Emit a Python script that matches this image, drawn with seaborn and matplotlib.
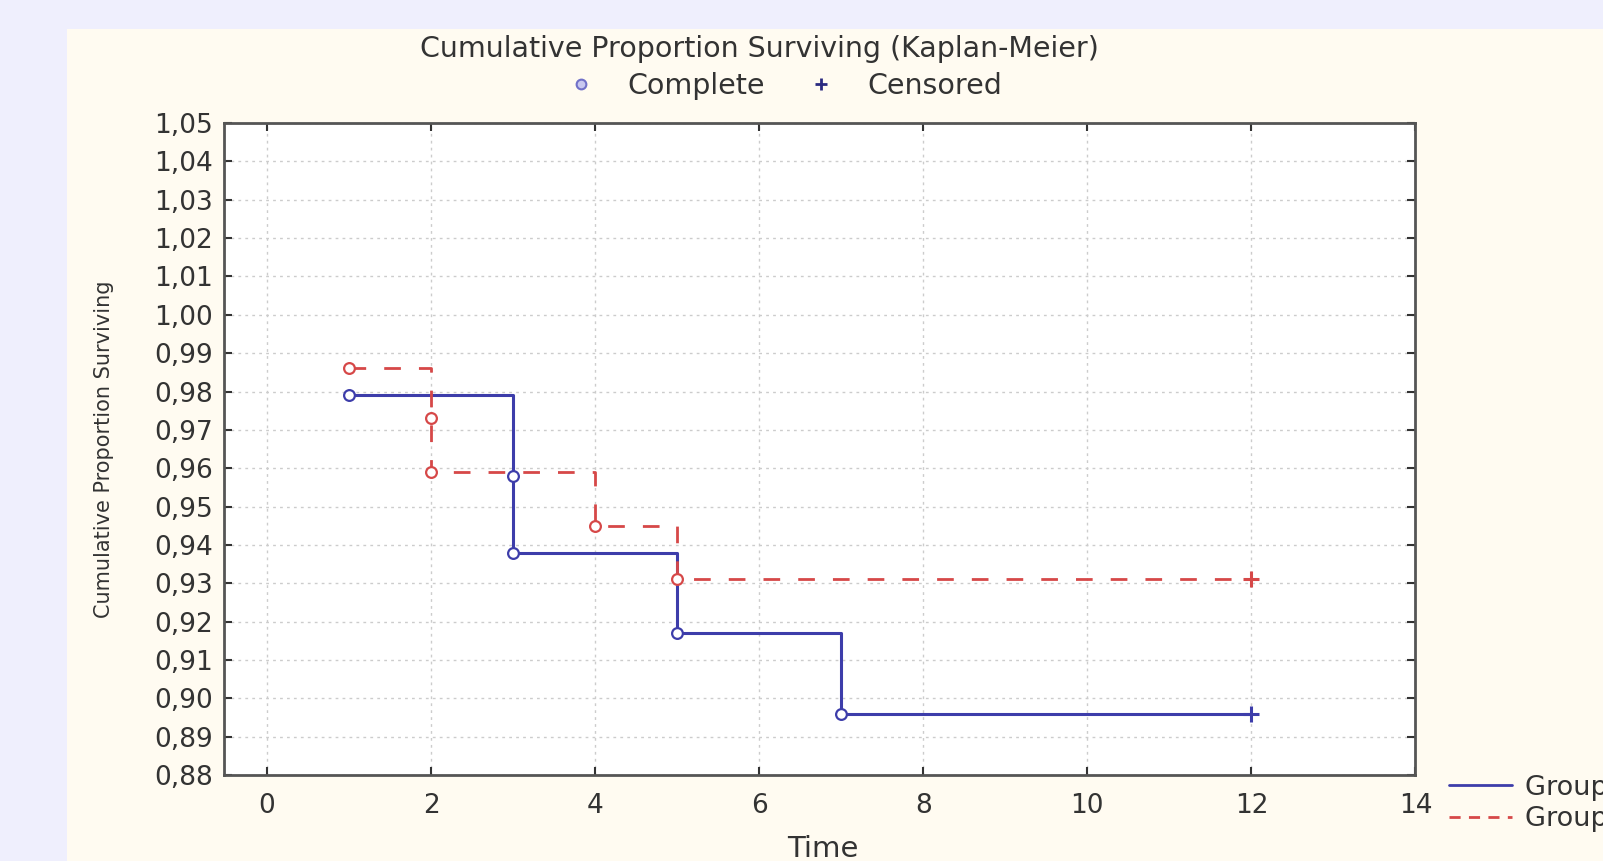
import numpy as np
import pandas as pd
import matplotlib
matplotlib.use('Agg')
import matplotlib.pyplot as plt
import seaborn as sns
from matplotlib.lines import Line2D
from matplotlib.ticker import FuncFormatter, MultipleLocator

# Kaplan-Meier estimates
g1_time = [1, 3, 3, 5, 7, 12]
g1_surv = [0.979, 0.958, 0.938, 0.917, 0.896, 0.896]
g1_cens = [False, False, False, False, False, True]

g2_time = [1, 2, 2, 4, 5, 12]
g2_surv = [0.986, 0.973, 0.959, 0.945, 0.931, 0.931]
g2_cens = [False, False, False, False, False, True]

x_ticks = [0, 2, 4, 6, 8, 10, 12, 14]

blue = '#3d3daa'
red = '#d64848'
txt = '#333333'

df1 = pd.DataFrame({'Time': g1_time, 'Surv': g1_surv, 'Censored': g1_cens})
df2 = pd.DataFrame({'Time': g2_time, 'Surv': g2_surv, 'Censored': g2_cens})

sns.set_style('ticks')
plt.rcParams['font.family'] = ['DejaVu Sans']

fig = plt.figure(figsize=(16.03, 8.61), dpi=100, facecolor='#efeffd')
fig.patches.append(plt.Rectangle((0.042, 0), 0.958, 0.966, transform=fig.transFigure,
                                 facecolor='#fffbf1', edgecolor='none', zorder=-5))
ax = fig.add_axes([0.140, 0.100, 0.743, 0.757])
ax.set_facecolor('white')

sns.lineplot(data=df1, x='Time', y='Surv', estimator=None, sort=False, ax=ax,
             drawstyle='steps-post', color=blue, linewidth=2.2, zorder=3)
sns.lineplot(data=df2, x='Time', y='Surv', estimator=None, sort=False, ax=ax,
             drawstyle='steps-post', color=red, linewidth=2.0, dashes=False,
             linestyle=(0, (6, 6.5)), zorder=3)

for d, c in [(df1, blue), (df2, red)]:
    comp = d[~d['Censored']]
    cens = d[d['Censored']]
    sns.scatterplot(data=comp, x='Time', y='Surv', ax=ax, marker='o', s=60,
                    facecolor='white', edgecolor=c, linewidth=1.6, zorder=4)
    sns.scatterplot(data=cens, x='Time', y='Surv', ax=ax, marker='+', s=140,
                    color=c, linewidth=2.2, zorder=4)

ax.set_xlim(-0.52, 14)
ax.set_ylim(0.88, 1.05)
ax.set_xticks(x_ticks)
ax.yaxis.set_major_locator(MultipleLocator(0.01))
ax.yaxis.set_major_formatter(FuncFormatter(lambda v, p: f'{v:.2f}'.replace('.', ',')))
ax.tick_params(axis='both', direction='in', length=6, width=1.5, color='#333333',
               labelsize=19, labelcolor=txt, top=True, right=True)
ax.tick_params(axis='x', pad=13)
ax.tick_params(axis='y', pad=8)
ax.grid(True, linestyle=(0, (2, 3)), color='#cccccc', linewidth=1.0)
for s in ax.spines.values():
    s.set_color('#555555')
    s.set_linewidth(2.0)

ax.set_xlabel('Time', fontsize=21, color=txt)
ax.set_ylabel('Cumulative Proportion Surviving', fontsize=15, color=txt)
ax.xaxis.set_label_coords(0.502, -0.092)
ax.yaxis.set_label_coords(-0.093, 0.5)

fig.text(0.474, 0.943, 'Cumulative Proportion Surviving (Kaplan-Meier)',
         ha='center', va='center', fontsize=20.5, color=txt)

top_handles = [
    Line2D([], [], linestyle='none', marker='o', markersize=7, markerfacecolor='#c8c8f0',
           markeredgecolor='#7070c8', markeredgewidth=1.5),
    Line2D([], [], linestyle='none', marker='+', markersize=9, color='#2a2a80',
           markeredgewidth=2),
]
fig.legend(top_handles, ['Complete', 'Censored'], loc='center', ncol=2,
           bbox_to_anchor=(0.485, 0.9), frameon=False, fontsize=20.5,
           handletextpad=0.6, columnspacing=1.0, labelcolor=txt)

grp_handles = [
    Line2D([], [], color=blue, linewidth=2),
    Line2D([], [], color=red, linewidth=2, linestyle=(0, (4, 3))),
]
fig.legend(grp_handles, ['Group 1', 'Group 2'], loc='center left',
           bbox_to_anchor=(0.889, 0.067), frameon=False, fontsize=19.5,
           handlelength=2.3, handletextpad=0.5, labelspacing=0.2, labelcolor=txt)

fig.savefig('out.png', dpi=100, facecolor=fig.get_facecolor())
